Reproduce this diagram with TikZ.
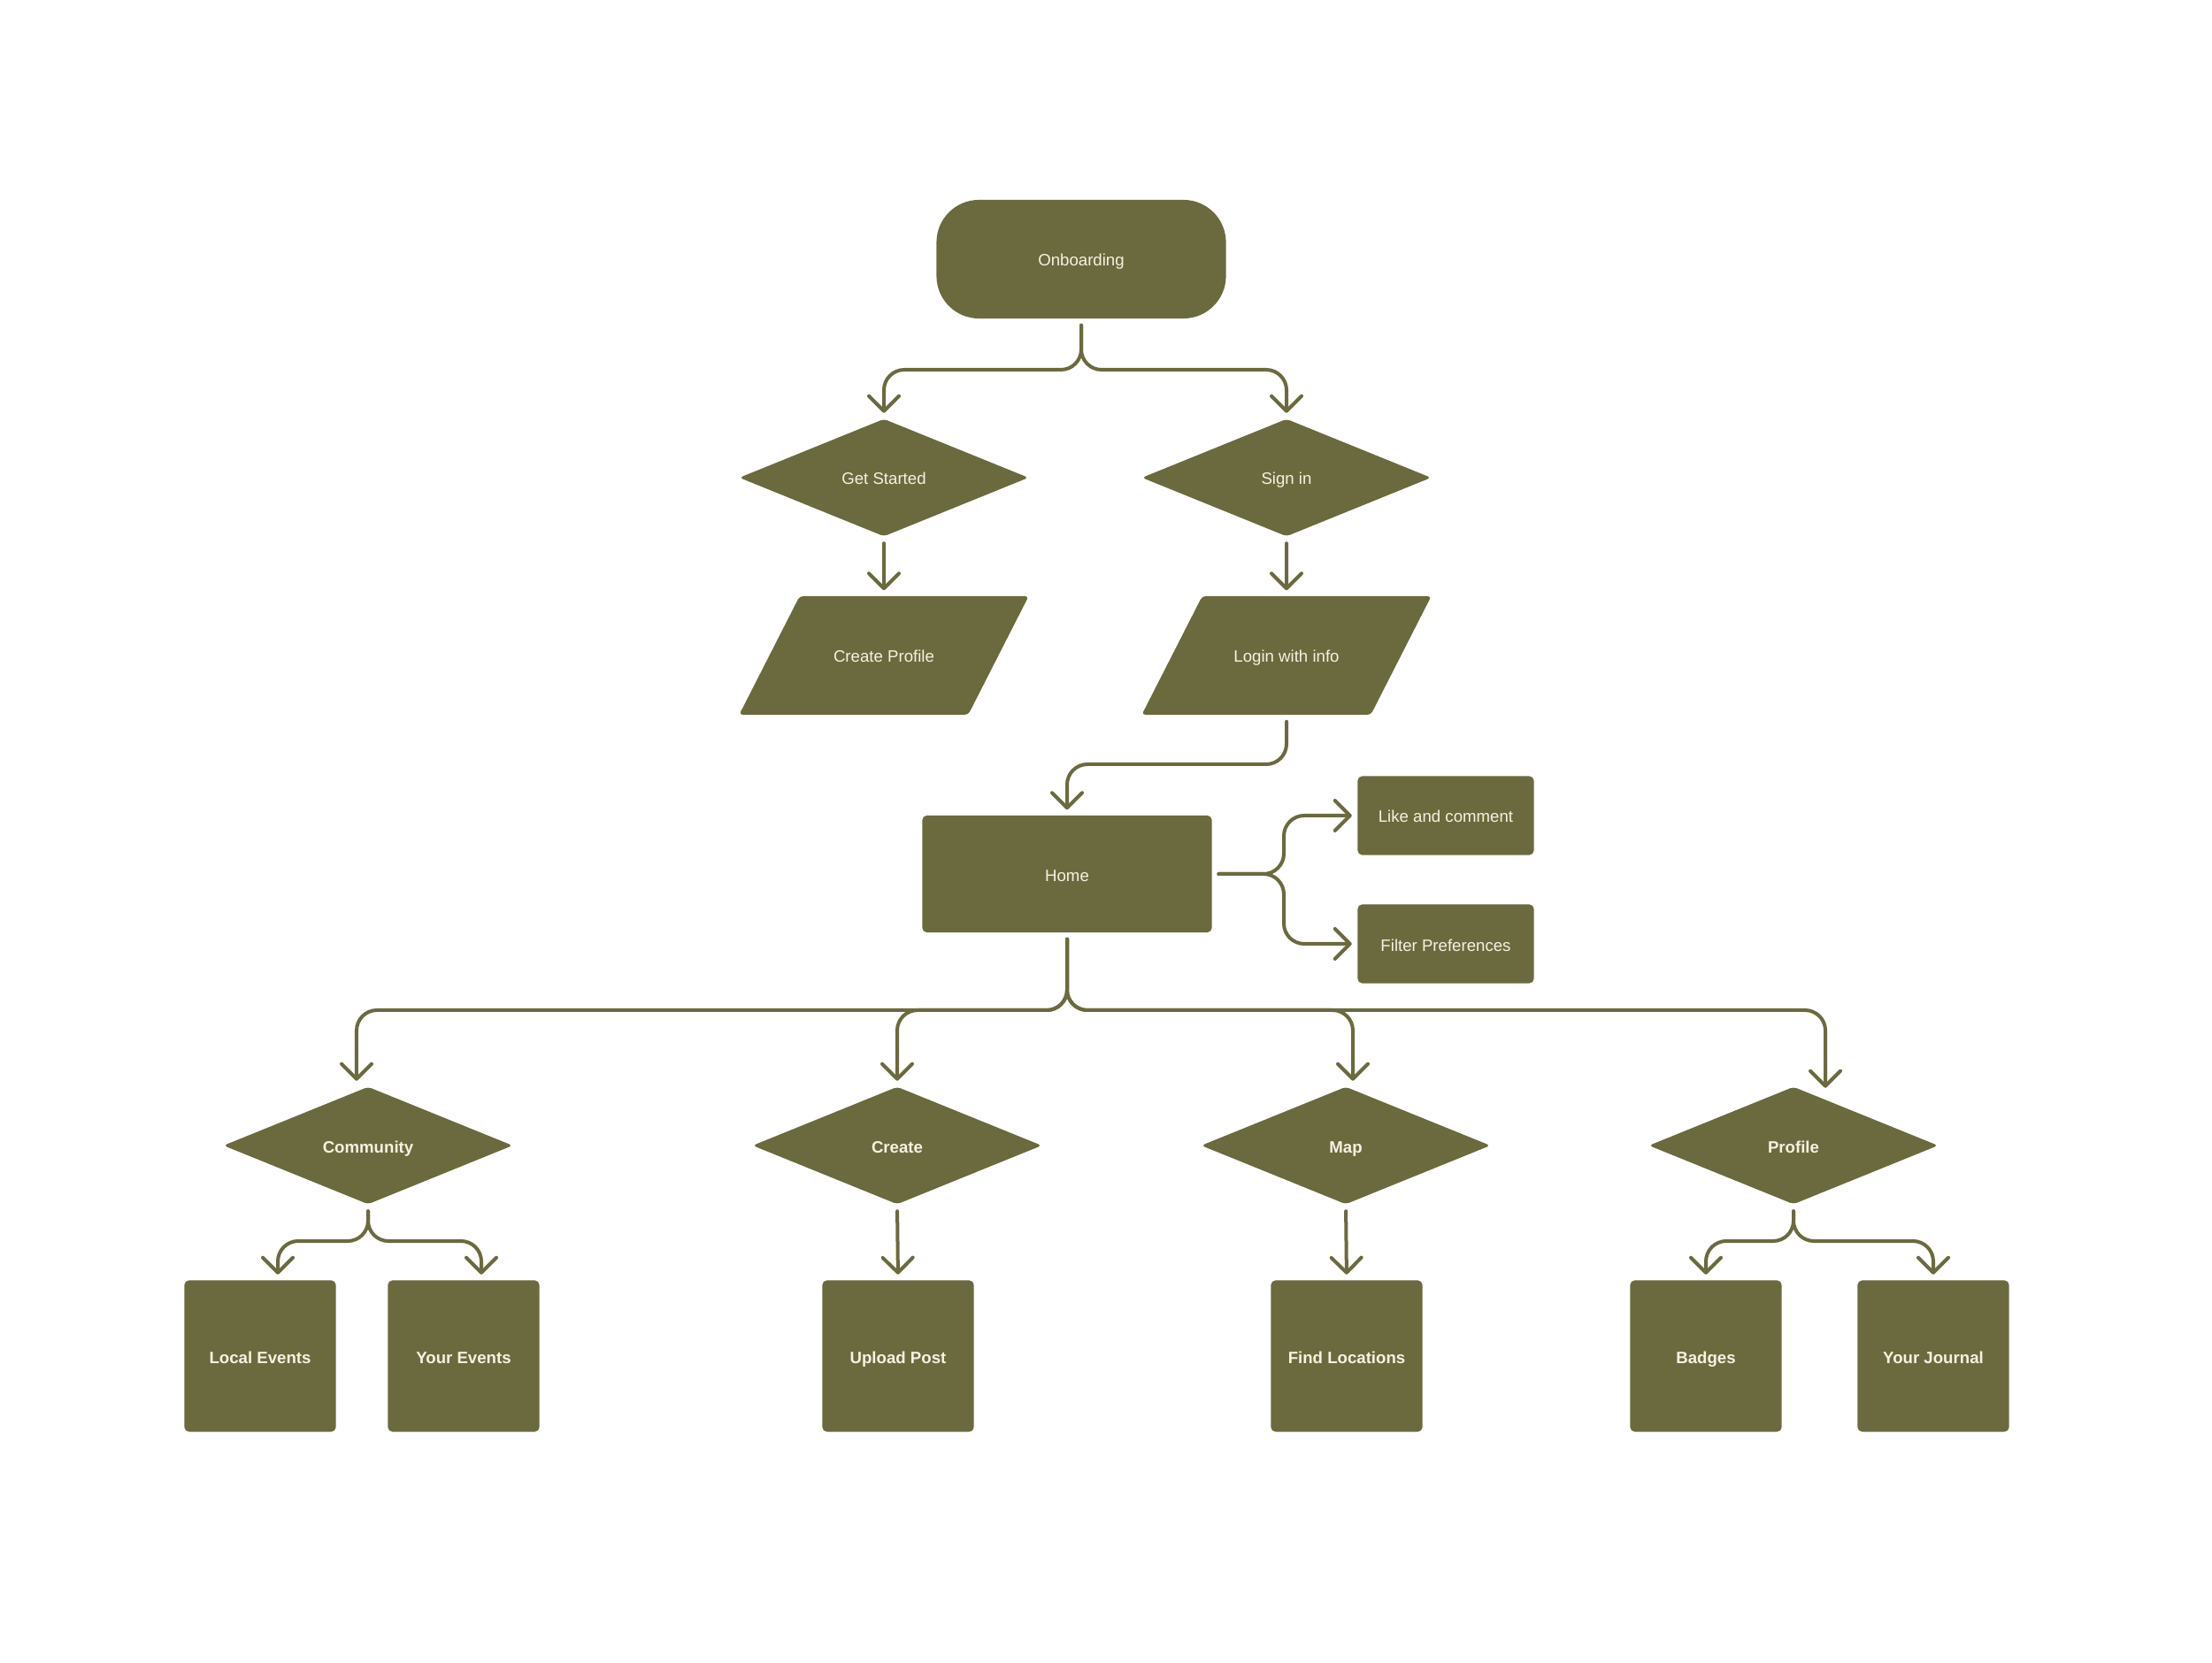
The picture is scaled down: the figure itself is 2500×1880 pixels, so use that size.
\documentclass[tikz,border=0pt]{standalone}
\usepackage{fontspec}
\setmainfont{Liberation Sans}
\usetikzlibrary{positioning,arrows.meta,shapes.geometric,calc}
\definecolor{olivec}{RGB}{107,106,62}
\definecolor{creamc}{RGB}{246,241,226}
\newcommand\chartfont{\fontsize{5.3}{6.4}\selectfont}
\tikzset{
  base/.style    = {fill=olivec, text=creamc, font=\chartfont, align=center, inner sep=0pt,
                    text height=0.2cm, text depth=0.04cm},
  start/.style   = {base, rectangle, rounded corners=0.48cm, minimum width=3.27cm, minimum height=1.34cm},
  choice/.style  = {base, diamond, rounded corners=0.04cm, minimum width=3.27cm, minimum height=1.33cm},
  topic/.style   = {choice, font=\chartfont\bfseries},
  io/.style      = {base, trapezium, trapezium left angle=63, trapezium right angle=117,
                    trapezium stretches body, rounded corners=0.04cm,
                    inner ysep=0.55cm, minimum width=3.27cm},
  screen/.style  = {base, rectangle, rounded corners=0.05cm, minimum width=3.27cm, minimum height=1.32cm},
  action/.style  = {base, rectangle, rounded corners=0.05cm, minimum width=1.99cm, minimum height=0.89cm},
  leaf/.style    = {base, rectangle, rounded corners=0.05cm, minimum size=1.71cm, font=\chartfont\bfseries},
  flow/.style    = {draw=olivec, line width=0.04cm, rounded corners=0.23cm, line cap=round,
                    -{Straight Barb[length=0.17cm, width=0.34cm, round]},
                    shorten <=0.07cm, shorten >=0.06cm},
}

\begin{document}
\begin{tikzpicture}[x=0.01cm, y=-0.01cm]
\useasboundingbox (0,0) rectangle (2500,1880);

\node[start] (onb) at (1222,293) {Onboarding};
\node[choice] (gs) at (999,540) {Get Started};
\node[choice] (si) at (1454,540) {Sign in};
\node[io] (cp) at (999,741) {Create Profile};
\node[io] (lw) at (1454,741) {Login with info};
\node[screen] (home) at (1206,988) {Home};
\node[action] (like) at (1634,922) {Like and comment};
\node[action] (filt) at (1634,1067) {Filter Preferences};

\node[topic] (comm) at (416,1295) {Community};
\node[topic] (create) at (1014,1295) {Create};
\node[topic] (map) at (1521,1295) {Map};
\node[topic] (prof) at (2027,1295) {Profile};

\node[leaf] (local) at (294,1533) {Local Events};
\node[leaf] (yours) at (524,1533) {Your Events};
\node[leaf] (upload) at (1015,1533) {Upload Post};
\node[leaf] (find) at (1522,1533) {Find Locations};
\node[leaf] (badge) at (1928,1533) {Badges};
\node[leaf] (journal) at (2185,1533) {Your Journal};

\coordinate (onbfork) at (1222,418);
\coordinate (lwfork) at (1454,864);
\coordinate (hsplit) at (1451,988);
\coordinate (hbus) at (1206,1142);
\coordinate (commfork) at (416,1403);
\coordinate (proffork) at (2027,1403);

\draw[flow] (onb.south) -- (onbfork) -| (gs.north);
\draw[flow] (onb.south) -- (onbfork) -| (si.north);
\draw[flow] (gs.south) -- (cp.north);
\draw[flow] (si.south) -- (lw.north);
\draw[flow] (lw.south) -- (lwfork) -| (home.north);

\draw[flow] (home.east) -- (hsplit) |- (like.west);
\draw[flow] (home.east) -- (hsplit) |- (filt.west);

\draw[flow] (home.south) -- (hbus) -| ([xshift=-0.13cm]comm.north);
\draw[flow] (home.south) -- (hbus) -| (create.north);
\draw[flow] (home.south) -- (hbus) -| ([xshift=0.08cm]map.north);
\draw[flow] (home.south) -- (hbus) -| ([xshift=0.36cm,yshift=-0.08cm]prof.north);

\draw[flow] (comm.south) -- (commfork) -| ([xshift=0.2cm]local.north);
\draw[flow] (comm.south) -- (commfork) -| ([xshift=0.2cm]yours.north);
\draw[flow] (create.south) -- (upload.north);
\draw[flow] (map.south) -- (find.north);
\draw[flow] (prof.south) -- (proffork) -| (badge.north);
\draw[flow] (prof.south) -- (proffork) -| (journal.north);

\end{tikzpicture}
\end{document}
